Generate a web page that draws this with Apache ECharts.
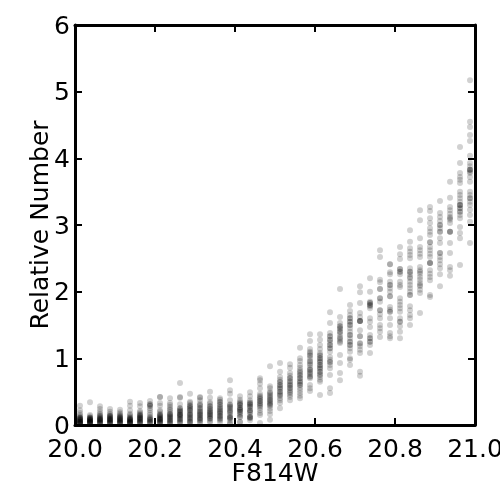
<!DOCTYPE html>
<html>
<head>
<meta charset="utf-8">
<style>html,body{margin:0;padding:0;background:#fff}#main{width:500px;height:500px}</style>
<script src="https://cdn.jsdelivr.net/npm/echarts@6/dist/echarts.min.js"></script>
</head>
<body>
<div id="main"></div>
<script>
const xTicks = [20.0, 20.2, 20.4, 20.6, 20.8, 21.0]
const yTicks = [0, 1, 2, 3, 4, 5, 6]

// magnitude bins, one column of points for each
const magBins = [
  20.0125, 20.0375, 20.0625, 20.0875, 20.1125, 20.1375, 20.1625, 20.1875,
  20.2125, 20.2375, 20.2625, 20.2875, 20.3125, 20.3375, 20.3625, 20.3875,
  20.4125, 20.4375, 20.4625, 20.4875, 20.5125, 20.5375, 20.5625, 20.5875,
  20.6125, 20.6375, 20.6625, 20.6875, 20.7125, 20.7375, 20.7625, 20.7875,
  20.8125, 20.8375, 20.8625, 20.8875, 20.9125, 20.9375, 20.9625, 20.9875
]

// relative number read per bin
const relNumber = [
  [.29,.22,.18,.15,.13,.11,.11,.09,.09,.07,.07,.05,.05,.05,.03,.03,.02,.02],
  [.34,.15,.13,.11,.11,.09,.09,.07,.07,.07,.05,.05,.05,.03,.03,.03],
  [.28,.24,.2,.17,.15,.13,.11,.09,.09,.07,.07,.05,.05,.03,.03],
  [.24,.2,.17,.15,.13,.13,.11,.09,.09,.07,.07,.05,.05,.03,.03],
  [.23,.19,.17,.15,.13,.11,.11,.09,.07,.07,.05,.05,.03,.03],
  [.35,.29,.22,.17,.15,.13,.11,.09,.09,.07,.07,.05,.05,.03,.03,.03],
  [.33,.28,.21,.19,.17,.15,.13,.11,.11,.09,.07,.07,.05,.05,.03],
  [.36,.31,.31,.29,.25,.22,.18,.15,.12,.09,.07,.05,.03],
  [.42,.42,.33,.29,.22,.2,.17,.15,.13,.11,.09,.09,.07,.05,.05,.03],
  [.4,.33,.3,.27,.24,.22,.19,.16,.13,.11,.09,.07,.05,.03,.02],
  [.63,.42,.41,.31,.25,.22,.2,.17,.15,.13,.11,.09,.07,.05,.03],
  [.47,.35,.33,.28,.25,.22,.2,.17,.15,.12,.1,.08,.06,.04,.02],
  [.42,.41,.37,.32,.29,.25,.22,.2,.17,.15,.12,.1,.08,.05,.03],
  [.5,.41,.34,.32,.28,.25,.22,.2,.18,.16,.13,.11,.09,.06,.04],
  [.4,.38,.35,.31,.27,.24,.21,.19,.17,.14,.12,.09,.07,.04],
  [.67,.52,.47,.37,.31,.28,.25,.21,.18,.15,.12,.1,.07,.03,.02],
  [.43,.38,.35,.33,.3,.26,.24,.22,.2,.17,.15,.12,.05,.04],
  [.49,.43,.37,.33,.31,.28,.26,.22,.19,.15,.12,.11,.07],
  [.7,.67,.62,.55,.47,.42,.39,.36,.32,.28,.26,.22,.18,.15,.03],
  [.88,.58,.55,.5,.46,.42,.38,.35,.32,.29,.25,.21,.16,.08],
  [.93,.8,.72,.68,.64,.6,.57,.54,.5,.47,.44,.4,.37,.33,.25],
  [.91,.86,.78,.74,.7,.66,.62,.59,.56,.52,.48,.45,.42,.37],
  [1.16,1,.96,.9,.86,.82,.78,.74,.7,.66,.63,.6,.56,.52,.48,.44,.4],
  [1.36,1.26,1.14,1.08,1.04,1,.96,.92,.9,.86,.83,.8,.76,.72,.7,.6,.55,.51],
  [1.36,1.28,1.2,1.14,1.08,1.04,1,.97,.94,.9,.87,.84,.8,.76,.72,.68,.65,.45],
  [1.69,1.53,1.38,1.33,1.28,1.24,1.2,1.15,1.1,1.02,.98,.94,.9,.85,.75,.55,.48],
  [2.04,1.62,1.53,1.48,1.44,1.4,1.36,1.32,1.28,1.23,1.05,.93,.78,.67],
  [1.8,1.71,1.65,1.6,1.55,1.5,1.45,1.4,1.35,1.3,1.25,1.2,1.15,1.1,1,.98,.9],
  [2.08,1.99,1.83,1.68,1.62,1.56,1.56,1.42,1.33,1.23,1.18,1.13,1.08,.8,.74],
  [2.2,2,1.85,1.83,1.8,1.75,1.6,1.47,1.35,1.3,1.25,1.2,1.08],
  [2.62,2.52,2.18,2.14,2.04,1.9,1.85,1.72,1.66,1.6,1.5,1.45,1.4,1.32],
  [2.41,2.29,2.26,2.15,2.1,2.05,2,1.93,1.77,1.73,1.7,1.6,1.5,1.38,1.33,1.3],
  [2.67,2.56,2.49,2.34,2.3,2.26,2.15,2.1,2.07,1.9,1.85,1.8,1.75,1.7,1.6,1.55,1.48,1.4,1.3],
  [2.92,2.75,2.65,2.6,2.55,2.5,2.35,2.3,2.26,2.22,2.15,2.1,2.05,2,1.95,1.78,1.72,1.65,1.6,1.5],
  [3.22,3.07,2.8,2.67,2.62,2.57,2.52,2.37,2.32,2.27,2.22,2.18,2.13,2.08,2.03,1.98,1.68],
  [3.27,3.21,3.1,3.03,2.95,2.9,2.85,2.74,2.67,2.62,2.57,2.52,2.43,2.43,2.32,2.27,2.22,2.17,1.95,1.92],
  [3.36,3.18,3.12,3.06,3,2.95,2.9,2.8,2.73,2.58,2.52,2.47,2.41,2.35,2.26,2.08],
  [3.65,3.41,3.27,3.22,3.17,3.12,3.08,3.03,2.9,2.9,2.73,2.58,2.37,2.32,2.24],
  [4.17,3.93,3.78,3.72,3.68,3.63,3.5,3.45,3.4,3.35,3.3,3.3,3.25,3.2,3.15,3.1,2.97,2.88,2.8,2.4],
  [5.17,4.55,4.47,4.35,4.26,4.04,3.93,3.88,3.83,3.83,3.78,3.72,3.65,3.5,3.45,3.4,3.35,3.23,3.15,3.05,2.73]
]

// repeat points at the darker spots of each bin
const relNumberDense = [
  [.05,.07,.09,.03,.05,.11],
  [.05,.07,.09,.11,.03,.05],
  [.05,.07,.09,.11,.03,.13],
  [.05,.07,.09,.11,.13,.03],
  [.05,.07,.09,.11,.13,.03],
  [.05,.07,.09,.03,.11,.05],
  [.05,.09,.11,.13,.15,.03],
  [.09,.05,.07,.29,.11,.03],
  [.05,.07,.09,.11,.13,.15,.03],
  [.11,.13,.15,.17,.05,.07],
  [.05,.09,.13,.15,.17,.2,.22,.25],
  [.05,.1,.14,.17,.22,.25,.28,.3],
  [.07,.1,.14,.17,.2,.25,.3],
  [.1,.14,.16,.2,.24,.28],
  [.1,.14,.18,.22,.26,.3,.34],
  [.2,.23,.27,.3,.12,.1],
  [.2,.23,.26,.3,.32,.12],
  [.1,.12,.2,.22,.28,.31,.34],
  [.3,.33,.36,.4,.44],
  [.3,.33,.37,.4,.44,.48],
  [.45,.5,.55,.6,.65],
  [.5,.55,.6,.65,.7],
  [.6,.65,.7,.75,.8],
  [.73,.78,.83,.95,1.05,1.1],
  [.75,.8,.85,.9,.95,1,1.05],
  [.95,1.15,1.2,1.28,1.33],
  [1.25,1.3,1.4,1.45,1.48],
  [1.2,1.25,1.35,1.5,1.55,1.6],
  [1.22,1.33,1.56,1.56],
  [1.25,1.3,1.55,1.78,1.8,1.83],
  [1.72,1.9,2.04],
  [2.41,2.1,1.93,1.7],
  [2.34,2.3,1.55],
  [2.3,2.2,1.95],
  [2.3,2.1],
  [2.43,2.74],
  [2.9,3,2.58],
  [3.1,2.9],
  [3.3,3.2,3.25],
  [3.8,3.83,3.3,3.4]
]

const points = []
magBins.forEach((mag, i) => {
  relNumber[i].concat(relNumberDense[i]).forEach(v => points.push([mag, v]))
})

const font = 'DejaVu Sans'
const black = '#000'
const spine = { show: true, onZero: false, lineStyle: { color: black, width: 3 } }
const ticks = { show: true, inside: true, length: 7, lineStyle: { color: black, width: 2 } }

const chart = echarts.init(document.getElementById('main'), null, { renderer: 'canvas' })
chart.setOption({
  animation: false,
  backgroundColor: '#fff',
  grid: { left: 75, top: 25, width: 400, height: 400, outerBoundsMode: 'none' },
  xAxis: [
    {
      type: 'value',
      min: xTicks[0],
      max: xTicks[xTicks.length - 1],
      interval: 0.2,
      name: 'F814W',
      nameLocation: 'middle',
      nameGap: 37,
      nameMoveOverlap: false,
      nameTextStyle: { fontFamily: font, fontSize: 25, color: black },
      axisLine: spine,
      axisTick: ticks,
      splitLine: { show: false },
      axisLabel: {
        fontFamily: font,
        fontSize: 25,
        color: black,
        margin: 13,
        showMinLabel: true,
        showMaxLabel: true,
        hideOverlap: false,
        formatter: v => v.toFixed(1)
      }
    },
    {
      type: 'value',
      position: 'top',
      min: xTicks[0],
      max: xTicks[xTicks.length - 1],
      interval: 0.2,
      axisLine: spine,
      axisTick: ticks,
      axisLabel: { show: false },
      splitLine: { show: false }
    }
  ],
  yAxis: [
    {
      type: 'value',
      min: yTicks[0],
      max: yTicks[yTicks.length - 1],
      interval: 1,
      name: 'Relative Number',
      nameLocation: 'middle',
      nameGap: 21,
      nameMoveOverlap: false,
      nameTextStyle: { fontFamily: font, fontSize: 25, color: black },
      axisLine: spine,
      axisTick: ticks,
      splitLine: { show: false },
      axisLabel: {
        fontFamily: font,
        fontSize: 25,
        color: black,
        margin: 5,
        formatter: v => '{num|' + v + '}',
        rich: { num: { fontFamily: font, fontSize: 25, color: black, padding: [4, 0, 0, 0] } }
      }
    },
    {
      type: 'value',
      position: 'right',
      min: yTicks[0],
      max: yTicks[yTicks.length - 1],
      interval: 1,
      axisLine: spine,
      axisTick: ticks,
      axisLabel: { show: false },
      splitLine: { show: false }
    }
  ],
  series: [
    {
      type: 'scatter',
      data: points,
      symbol: 'circle',
      symbolSize: 6,
      itemStyle: { color: '#000', opacity: 0.18 },
      z: 1
    }
  ]
})
</script>
</body>
</html>
